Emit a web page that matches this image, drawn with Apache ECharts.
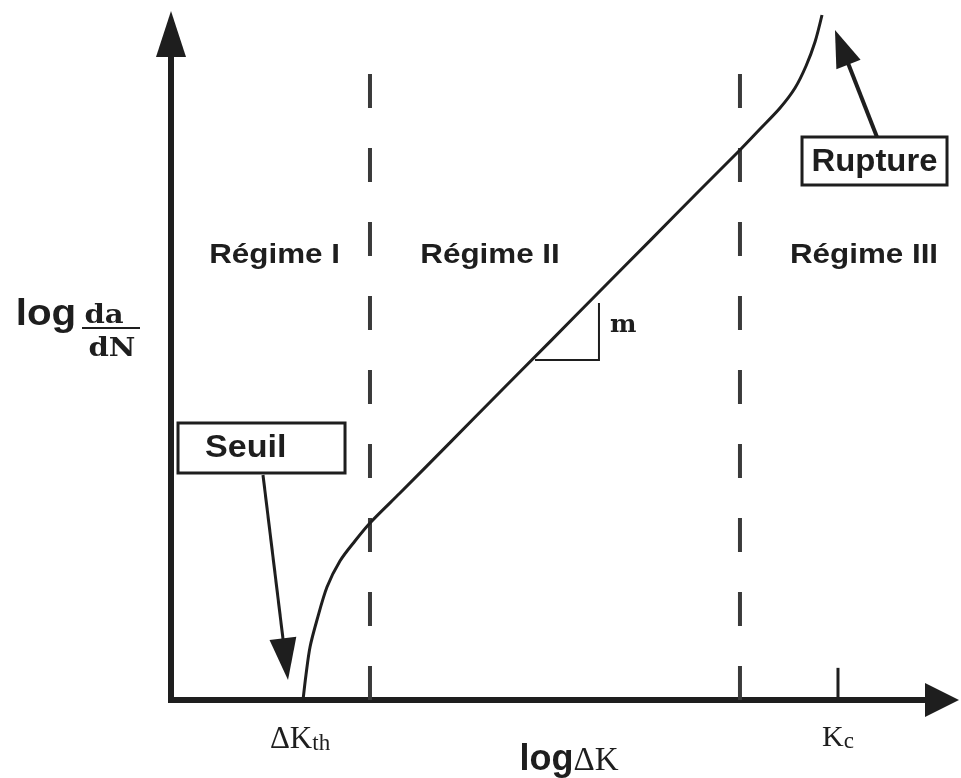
<!DOCTYPE html>
<html>
<head>
<meta charset="utf-8">
<script src="https://cdn.jsdelivr.net/npm/echarts@6/dist/echarts.min.js"></script>
<style>
  html, body { margin: 0; padding: 0; background: #ffffff; }
  #chart { width: 961px; height: 778px; }
</style>
</head>
<body>
<div id="chart"></div>
<script>
// Fatigue crack growth curve: log(da/dN) against log(ΔK), schematic units 0..100

// crack growth curve (threshold knee, Paris line, fast growth to rupture)
const curveLogDeltaK = [17.51, 17.90, 18.44, 19.36, 20.69, 22.41, 24.40, 26.39, 30.37, 37.00, 43.63, 50.27, 56.90, 63.53, 70.16, 75.46, 78.12, 80.77, 82.76, 84.22, 85.41, 86.34];
const curveLogRate   = [0.00, 3.89, 8.24, 12.44, 17.57, 21.62, 24.73, 27.53, 32.19, 40.03, 47.90, 55.74, 63.61, 71.45, 79.32, 85.54, 88.80, 92.07, 95.18, 98.60, 102.33, 106.53];

// regime limits on the ΔK axis and their names
const regimeLimits = [26.39, 75.46];
const regimeLimitTop = 98.1;
const regimeNames = ['Régime I', 'Régime II', 'Régime III'];
const regimeNameK = [13.73, 42.31, 91.91];
const regimeNameRate = 69.2;

// characteristic values on the ΔK axis
const deltaKth = 17.51;
const kc = 88.46;
const kcTickTop = 5;

// slope triangle "m" on the Paris line (corner, right corner, top)
const slopeK = [48.28, 56.76, 56.76];
const slopeRate = [52.88, 52.88, 61.74];

// callouts: box corners [k0, rate0, k1, rate1], arrow start and tip
const seuilBox = [0.93, 35.30, 23.08, 43.08];
const seuilArrow = [[12.20, 34.99], [15.52, 3.11]];
const ruptureBox = [83.69, 80.09, 102.92, 87.56];
const ruptureArrow = [[93.63, 87.56], [88.06, 104.20]];

const INK = '#1e1e1e';
const SANS = '"Liberation Sans", Arial, sans-serif';
const SERIF = '"Liberation Serif", "Times New Roman", serif';
const WIDE_SERIF = '"DejaVu Serif", serif';

function zip(a, b) { return a.map((v, i) => [v, b[i]]); }

function textEl(pt, text, o) {
  return {
    type: 'text', x: pt[0], y: pt[1], scaleX: o.sx || 1,
    style: {
      text: text, fill: INK,
      fontFamily: o.family || SANS, fontWeight: o.weight || 'bold', fontSize: o.size,
      align: o.align || 'center', verticalAlign: o.va || 'middle',
      rich: o.rich
    }
  };
}

function arrowEls(from, to, headLen, headW, lineW) {
  const dx = to[0] - from[0], dy = to[1] - from[1];
  const len = Math.hypot(dx, dy);
  const ux = dx / len, uy = dy / len;
  const bx = to[0] - ux * headLen, by = to[1] - uy * headLen;
  const px = -uy * headW / 2, py = ux * headW / 2;
  return [
    { type: 'line', shape: { x1: from[0], y1: from[1], x2: bx + ux * 2, y2: by + uy * 2 },
      style: { stroke: INK, lineWidth: lineW } },
    { type: 'polygon', shape: { points: [[to[0], to[1]], [bx + px, by + py], [bx - px, by - py]] },
      style: { fill: INK } }
  ];
}

function boxEl(x0, y0, x1, y1) {
  return {
    type: 'rect',
    shape: { x: x0, y: y0, width: x1 - x0, height: y1 - y0 },
    style: { fill: '#ffffff', stroke: INK, lineWidth: 3 }
  };
}

function renderAnnotations(params, api) {
  const c = (k, r) => api.coord([k, r]);
  const els = [];

  // regime names
  regimeNames.forEach((name, i) => {
    els.push(textEl(c(regimeNameK[i], regimeNameRate), name, { size: 28, sx: 1.12 }));
  });

  // slope triangle and its label
  const t0 = c(slopeK[0], slopeRate[0]), t1 = c(slopeK[1], slopeRate[1]), t2 = c(slopeK[2], slopeRate[2]);
  els.push({ type: 'polyline', shape: { points: [t0, t1, t2] },
             style: { stroke: INK, lineWidth: 2, fill: null } });
  els.push(textEl([t2[0] + 11, t2[1] + 22], 'm',
                  { family: WIDE_SERIF, size: 25, align: 'left', va: 'middle' }));

  // Seuil callout
  const sTL = c(seuilBox[0], seuilBox[3]), sBR = c(seuilBox[2], seuilBox[1]);
  els.push(boxEl(sTL[0], sTL[1], sBR[0], sBR[1]));
  els.push(textEl([sTL[0] + 27, (sTL[1] + sBR[1]) / 2], 'Seuil', { size: 31, sx: 1.1, align: 'left' }));
  els.push.apply(els, arrowEls(c(seuilArrow[0][0], seuilArrow[0][1]), c(seuilArrow[1][0], seuilArrow[1][1]), 42, 27, 3));

  // Rupture callout
  const rTL = c(ruptureBox[0], ruptureBox[3]), rBR = c(ruptureBox[2], ruptureBox[1]);
  els.push.apply(els, arrowEls(c(ruptureArrow[0][0], ruptureArrow[0][1]), c(ruptureArrow[1][0], ruptureArrow[1][1]), 37, 26, 4));
  els.push(boxEl(rTL[0], rTL[1], rBR[0], rBR[1]));
  els.push(textEl([(rTL[0] + rBR[0]) / 2, (rTL[1] + rBR[1]) / 2 + 1], 'Rupture', { size: 31, sx: 1.06 }));

  // ΔK axis labels
  const kth = c(deltaKth, 0), kcp = c(kc, 0);
  els.push(textEl([kth[0] - 3, kth[1] + 40], '{a|ΔK}{b|th}', {
    size: 31, family: SERIF, weight: 'normal',
    rich: { a: { fontFamily: SERIF, fontSize: 31, fill: INK, verticalAlign: 'bottom' },
            b: { fontFamily: SERIF, fontSize: 23, fill: INK, verticalAlign: 'bottom' } }
  }));
  els.push(textEl([kcp[0], kcp[1] + 38], '{a|K}{b|c}', {
    size: 30, family: SERIF, weight: 'normal',
    rich: { a: { fontFamily: SERIF, fontSize: 30, fill: INK, verticalAlign: 'bottom' },
            b: { fontFamily: SERIF, fontSize: 23, fill: INK, verticalAlign: 'bottom' } }
  }));
  const axisMid = c(52.25, 0);
  els.push(textEl([axisMid[0] + 4, axisMid[1] + 60], '{s|log}{t|ΔK}', {
    size: 34,
    rich: { s: { fontFamily: SANS, fontWeight: 'bold', fontSize: 36, fill: INK, verticalAlign: 'bottom' },
            t: { fontFamily: SERIF, fontSize: 33, fill: INK, verticalAlign: 'bottom' } }
  }));

  // rate axis label: log da/dN
  const o = c(0, 59.88);
  els.push(textEl([o[0] - 125, o[1]], 'log', { size: 36, sx: 1.12 }));
  els.push(textEl([o[0] - 67, o[1] + 14], 'da', { family: WIDE_SERIF, size: 26, sx: 1.12, va: 'bottom' }));
  els.push({ type: 'line', shape: { x1: o[0] - 89, y1: o[1] + 13, x2: o[0] - 31, y2: o[1] + 13 },
             style: { stroke: INK, lineWidth: 2 } });
  els.push(textEl([o[0] - 59, o[1] + 34], 'dN', { family: WIDE_SERIF, size: 26, sx: 1.12 }));

  return { type: 'group', children: els };
}

const option = {
  animation: false,
  backgroundColor: '#ffffff',
  grid: { left: 171, right: 36, top: 57, bottom: 78 },
  xAxis: {
    type: 'value', min: 0, max: 100,
    axisLine: {
      show: true, onZero: false,
      lineStyle: { color: INK, width: 6, cap: 'square' },
      symbol: ['none', 'triangle'], symbolSize: [34, 34], symbolOffset: [0, 17]
    },
    axisTick: { show: false }, axisLabel: { show: false }, splitLine: { show: false }
  },
  yAxis: {
    type: 'value', min: 0, max: 100,
    axisLine: {
      show: true, onZero: false,
      lineStyle: { color: INK, width: 6, cap: 'square' },
      symbol: ['none', 'triangle'], symbolSize: [30, 46], symbolOffset: [0, 23]
    },
    axisTick: { show: false }, axisLabel: { show: false }, splitLine: { show: false }
  },
  series: [
    ...regimeLimits.map((k) => ({
      type: 'line', silent: true, symbol: 'none', clip: false,
      data: [[k, 0], [k, regimeLimitTop]],
      lineStyle: { color: '#3a3a3a', width: 4, type: [34, 40] }
    })),
    {
      type: 'line', silent: true, symbol: 'none', clip: false,
      data: [[kc, 0], [kc, kcTickTop]],
      lineStyle: { color: INK, width: 3 }
    },
    {
      type: 'line', silent: true, symbol: 'none', clip: false,
      smooth: 0.3,
      data: zip(curveLogDeltaK, curveLogRate),
      lineStyle: { color: INK, width: 3 }
    },
    {
      type: 'custom', silent: true, clip: false,
      data: [[0, 0]],
      encode: { x: 0, y: 1 },
      renderItem: renderAnnotations,
      z: 5
    }
  ]
};

const chart = echarts.init(document.getElementById('chart'), null, { renderer: 'canvas' });
chart.setOption(option);
</script>
</body>
</html>
